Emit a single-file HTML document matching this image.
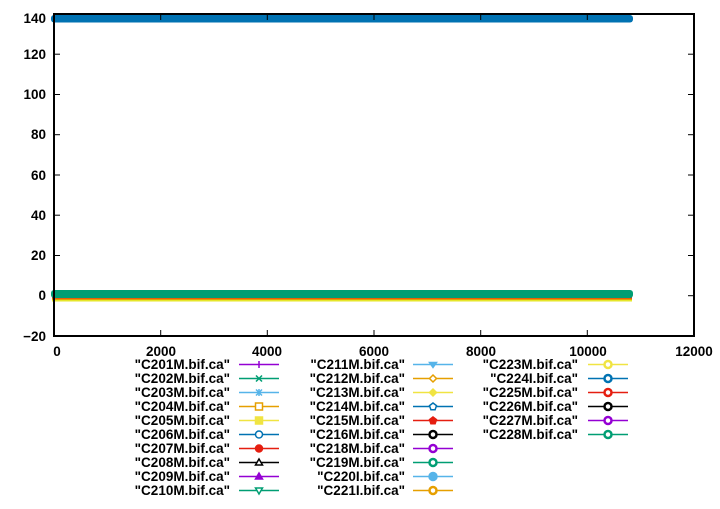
<!DOCTYPE html>
<html><head><meta charset="utf-8"><style>
body{margin:0;background:#fff}
svg text{font-family:"Liberation Sans",sans-serif;font-weight:bold;font-size:13.5px;fill:#000}
</style></head><body>
<svg width="720" height="504" viewBox="0 0 720 504" xmlns="http://www.w3.org/2000/svg">
<rect width="720" height="504" fill="#fff"/>
<rect x="51" y="15" width="582" height="7.5" rx="3" fill="#0072b2"/>
<rect x="52" y="299" width="580" height="2.5" fill="#e6e62a"/>
<rect x="52" y="298" width="580" height="2" fill="#e69f00"/>
<rect x="52" y="297" width="580" height="1.5" fill="#e51e10"/>
<rect x="51" y="290" width="582" height="8" rx="3" fill="#009e73"/>
<g stroke="#000" stroke-width="1">
<line x1="54" y1="54.2" x2="60" y2="54.2"/><line x1="54" y1="94.5" x2="60" y2="94.5"/>
<line x1="54" y1="134.7" x2="60" y2="134.7"/><line x1="54" y1="175" x2="60" y2="175"/>
<line x1="54" y1="215.2" x2="60" y2="215.2"/><line x1="54" y1="255.5" x2="60" y2="255.5"/>
<line x1="694" y1="54.2" x2="688" y2="54.2"/><line x1="694" y1="94.5" x2="688" y2="94.5"/>
<line x1="694" y1="134.7" x2="688" y2="134.7"/><line x1="694" y1="175" x2="688" y2="175"/>
<line x1="694" y1="215.2" x2="688" y2="215.2"/><line x1="694" y1="255.5" x2="688" y2="255.5"/>
<line x1="694" y1="295.7" x2="688" y2="295.7"/>
<line x1="160.7" y1="336" x2="160.7" y2="330"/><line x1="267.3" y1="336" x2="267.3" y2="330"/>
<line x1="374" y1="336" x2="374" y2="330"/><line x1="480.7" y1="336" x2="480.7" y2="330"/>
<line x1="587.3" y1="336" x2="587.3" y2="330"/>
<line x1="160.7" y1="14" x2="160.7" y2="20"/><line x1="267.3" y1="14" x2="267.3" y2="20"/>
<line x1="374" y1="14" x2="374" y2="20"/><line x1="480.7" y1="14" x2="480.7" y2="20"/>
<line x1="587.3" y1="14" x2="587.3" y2="20"/>
</g>
<rect x="54" y="14" width="640" height="322" fill="none" stroke="#000" stroke-width="2"/>
<g text-anchor="end">
<text x="46" y="23">140</text><text x="46" y="59">120</text><text x="46" y="99">100</text>
<text x="46" y="139">80</text><text x="46" y="180">60</text><text x="46" y="220">40</text>
<text x="46" y="260">20</text><text x="46" y="300">0</text><text x="46" y="341">−20</text>
</g>
<g text-anchor="middle">
<text x="57" y="356">0</text><text x="161" y="356">2000</text><text x="267" y="356">4000</text>
<text x="374" y="356">6000</text><text x="481" y="356">8000</text><text x="588" y="356">10000</text>
<text x="694" y="356">12000</text>
</g>
<g text-anchor="end">
<text x="230" y="369">"C201M.bif.ca"</text><text x="230" y="383">"C202M.bif.ca"</text>
<text x="230" y="397">"C203M.bif.ca"</text><text x="230" y="411">"C204M.bif.ca"</text>
<text x="230" y="425">"C205M.bif.ca"</text><text x="230" y="439">"C206M.bif.ca"</text>
<text x="230" y="453">"C207M.bif.ca"</text><text x="230" y="467">"C208M.bif.ca"</text>
<text x="230" y="481">"C209M.bif.ca"</text><text x="230" y="495">"C210M.bif.ca"</text>
<text x="405" y="369">"C211M.bif.ca"</text><text x="405" y="383">"C212M.bif.ca"</text>
<text x="405" y="397">"C213M.bif.ca"</text><text x="405" y="411">"C214M.bif.ca"</text>
<text x="405" y="425">"C215M.bif.ca"</text><text x="405" y="439">"C216M.bif.ca"</text>
<text x="405" y="453">"C218M.bif.ca"</text><text x="405" y="467">"C219M.bif.ca"</text>
<text x="405" y="481">"C220I.bif.ca"</text><text x="405" y="495">"C221I.bif.ca"</text>
<text x="578" y="369">"C223M.bif.ca"</text><text x="578" y="383">"C224I.bif.ca"</text>
<text x="578" y="397">"C225M.bif.ca"</text><text x="578" y="411">"C226M.bif.ca"</text>
<text x="578" y="425">"C227M.bif.ca"</text><text x="578" y="439">"C228M.bif.ca"</text>
</g>
<g stroke-width="1.5">
<g stroke="#9400d3"><line x1="239" y1="364.5" x2="279" y2="364.5"/><line x1="259" y1="361" x2="259" y2="368"/></g>
<g stroke="#009e73"><line x1="239" y1="378.5" x2="279" y2="378.5"/><path d="M256 375.5l6 6M262 375.5l-6 6"/></g>
<g stroke="#56b4e9"><line x1="239" y1="392.5" x2="279" y2="392.5"/><path d="M256 389.5l6 6M262 389.5l-6 6M259 389v7"/></g>
<g stroke="#e69f00"><line x1="239" y1="406.5" x2="279" y2="406.5"/><rect x="255.5" y="403" width="7" height="7" fill="#fff"/></g>
<g stroke="#f0e442"><line x1="239" y1="420.5" x2="279" y2="420.5"/><rect x="255.5" y="417" width="7" height="7" fill="#f0e442"/></g>
<g stroke="#0072b2"><line x1="239" y1="434.5" x2="279" y2="434.5"/><circle cx="259" cy="434.5" r="3.5" fill="#fff"/></g>
<g stroke="#e51e10"><line x1="239" y1="448.5" x2="279" y2="448.5"/><circle cx="259" cy="448.5" r="3.5" fill="#e51e10"/></g>
<g stroke="#000"><line x1="239" y1="462.5" x2="279" y2="462.5"/><path d="M259 459l3.5 6h-7z" fill="#fff"/></g>
<g stroke="#9400d3"><line x1="239" y1="476.5" x2="279" y2="476.5"/><path d="M259 473l3.5 6h-7z" fill="#9400d3"/></g>
<g stroke="#009e73"><line x1="239" y1="490.5" x2="279" y2="490.5"/><path d="M259 494l3.5-6h-7z" fill="#fff"/></g>

<g stroke="#56b4e9"><line x1="413" y1="364.5" x2="453" y2="364.5"/><path d="M433 367.5l3.5-5h-7z" fill="#56b4e9"/></g>
<g stroke="#e69f00"><line x1="413" y1="378.5" x2="453" y2="378.5"/><path d="M433 375l3.5 3.5-3.5 3.5-3.5-3.5z" fill="#fff"/></g>
<g stroke="#f0e442"><line x1="413" y1="392.5" x2="453" y2="392.5"/><path d="M433 389l3.5 3.5-3.5 3.5-3.5-3.5z" fill="#f0e442"/></g>
<g stroke="#0072b2"><line x1="413" y1="406.5" x2="453" y2="406.5"/><path d="M433 403l3.5 2.7-1.4 4h-4.2l-1.4-4z" fill="#fff"/></g>
<g stroke="#e51e10"><line x1="413" y1="420.5" x2="453" y2="420.5"/><path d="M433 417l3.5 2.7-1.4 4h-4.2l-1.4-4z" fill="#e51e10"/></g>
<g stroke="#000"><line x1="413" y1="434.5" x2="453" y2="434.5"/><circle cx="433" cy="434.5" r="3.5" fill="#fff" stroke-width="2.5"/></g>
<g stroke="#9400d3"><line x1="413" y1="448.5" x2="453" y2="448.5"/><circle cx="433" cy="448.5" r="3.5" fill="#fff" stroke-width="2.5"/></g>
<g stroke="#009e73"><line x1="413" y1="462.5" x2="453" y2="462.5"/><circle cx="433" cy="462.5" r="3.5" fill="#fff" stroke-width="2.5"/></g>
<g stroke="#56b4e9"><line x1="413" y1="476.5" x2="453" y2="476.5"/><circle cx="433" cy="476.5" r="4" fill="#56b4e9"/></g>
<g stroke="#e69f00"><line x1="413" y1="490.5" x2="453" y2="490.5"/><circle cx="433" cy="490.5" r="3.5" fill="#fff" stroke-width="2.5"/></g>

<g stroke="#f0e442"><line x1="588" y1="364.5" x2="628" y2="364.5"/><circle cx="608" cy="364.5" r="3.5" fill="#fff" stroke-width="2.5"/></g>
<g stroke="#0072b2"><line x1="588" y1="378.5" x2="628" y2="378.5"/><circle cx="608" cy="378.5" r="3.5" fill="#fff" stroke-width="2.5"/></g>
<g stroke="#e51e10"><line x1="588" y1="392.5" x2="628" y2="392.5"/><circle cx="608" cy="392.5" r="3.5" fill="#fff" stroke-width="2.5"/></g>
<g stroke="#000"><line x1="588" y1="406.5" x2="628" y2="406.5"/><circle cx="608" cy="406.5" r="3.5" fill="#fff" stroke-width="2.5"/></g>
<g stroke="#9400d3"><line x1="588" y1="420.5" x2="628" y2="420.5"/><circle cx="608" cy="420.5" r="3.5" fill="#fff" stroke-width="2.5"/></g>
<g stroke="#009e73"><line x1="588" y1="434.5" x2="628" y2="434.5"/><circle cx="608" cy="434.5" r="3.5" fill="#fff" stroke-width="2.5"/></g>
</g>
</svg>
</body></html>
